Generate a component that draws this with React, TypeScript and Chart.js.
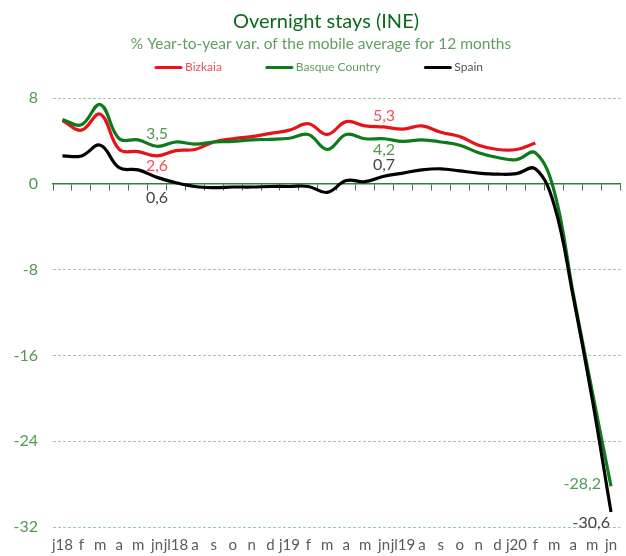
import React, { useEffect, useRef } from 'react';
import { Chart, registerables } from 'chart.js';
Chart.register(...registerables);

const categories = ['j18', 'f', 'm', 'a', 'm', 'jn', 'jl18', 'a', 's', 'o', 'n', 'd', 'j19', 'f', 'm', 'a', 'm', 'jn', 'jl19', 'a', 's', 'o', 'n', 'd', 'j20', 'f', 'm', 'a', 'm', 'jn'];

const bizkaia: (number | null)[] = [5.9, 5.0, 6.5, 3.2, 3.0, 2.6, 3.1, 3.2, 3.9, 4.2, 4.4, 4.7, 5.0, 5.6, 4.6, 5.8, 5.4, 5.3, 5.1, 5.4, 4.8, 4.4, 3.6, 3.2, 3.2, 3.8, null, null, null, null];
const basque: number[] = [6.0, 5.5, 7.4, 4.2, 4.1, 3.5, 3.9, 3.7, 3.9, 3.95, 4.1, 4.15, 4.25, 4.6, 3.2, 4.6, 4.2, 4.2, 3.95, 4.1, 3.9, 3.6, 2.9, 2.45, 2.25, 2.9, -0.7, -10.2, -19.3, -28.2];
const spain: number[] = [2.6, 2.6, 3.6, 1.5, 1.3, 0.6, 0.1, -0.25, -0.35, -0.3, -0.3, -0.25, -0.25, -0.25, -0.8, 0.3, 0.2, 0.7, 1.0, 1.3, 1.4, 1.2, 1.0, 0.9, 0.95, 1.4, -2.0, -10.5, -20.0, -30.6];

const seriesNames = ['Bizkaia', 'Basque Country', 'Spain'];
const lineColors = ['#e5141b', '#0e7a1c', '#000000'];
const legendTextColors = ['#f0505a', '#5f9f5f', '#555555'];
const labelColors = ['#f0505a', '#4f9a4f', '#444444'];

const yMin = -32;
const yMax = 8;
const yStep = 8;

const titleText = 'Overnight stays (INE)';
const subtitleText = '% Year-to-year var. of the mobile average for 12 months';

// data labels: dataset index, point index, placement
const dataLabels = [
  { ds: 0, idx: 5, dx: 0, dy: 10, align: 'center' },
  { ds: 0, idx: 17, dx: 0, dy: -11, align: 'center' },
  { ds: 1, idx: 5, dx: 0, dy: -12, align: 'center' },
  { ds: 1, idx: 17, dx: 0, dy: 11, align: 'center' },
  { ds: 1, idx: 29, dx: -10, dy: -2, align: 'right' },
  { ds: 2, idx: 5, dx: 0, dy: 20, align: 'center' },
  { ds: 2, idx: 17, dx: 0, dy: -11, align: 'center' },
  { ds: 2, idx: 29, dx: -1, dy: 11, align: 'right' },
];

const FONT = 'Lato, "Noto Sans", sans-serif';

const overlayPlugin = {
  id: 'overlayText',
  afterDraw(chart: any) {
    const ctx = chart.ctx as CanvasRenderingContext2D;
    const cx = chart.width / 2;
    ctx.save();
    ctx.textBaseline = 'middle';
    ctx.textAlign = 'center';
    ctx.font = `20px ${FONT}`;
    ctx.fillStyle = '#0f6a1e';
    ctx.fillText(titleText, cx + 13, 22);
    ctx.font = `15.5px ${FONT}`;
    ctx.fillStyle = '#5f9f5f';
    ctx.fillText(subtitleText, cx + 8, 44);

    // legend
    ctx.font = `12px ${FONT}`;
    const lineW = 27;
    const textGap = 3;
    const gap = 44;
    const widths = seriesNames.map((n) => lineW + textGap + ctx.measureText(n).width);
    const total = widths.reduce((a, b) => a + b, 0) + gap * (widths.length - 1);
    let x = cx + 6 - total / 2;
    ctx.textAlign = 'left';
    seriesNames.forEach((n, i) => {
      ctx.strokeStyle = lineColors[i];
      ctx.lineWidth = 3;
      ctx.lineCap = 'round';
      ctx.beginPath();
      ctx.moveTo(x + 1, 67.5);
      ctx.lineTo(x + lineW - 1, 67.5);
      ctx.stroke();
      ctx.fillStyle = legendTextColors[i];
      ctx.fillText(n, x + lineW + textGap, 67.5);
      x += widths[i] + gap;
    });

    // data labels
    ctx.font = `16px ${FONT}`;
    dataLabels.forEach((l) => {
      const meta = chart.getDatasetMeta(l.ds);
      const el = meta.data[l.idx];
      const v = chart.data.datasets[l.ds].data[l.idx];
      if (!el || v == null) return;
      const txt = (v as number).toFixed(1).replace('.', ',');
      ctx.fillStyle = labelColors[l.ds];
      ctx.textAlign = l.align as CanvasTextAlign;
      ctx.fillText(txt, el.x + l.dx, el.y + l.dy);
    });
    ctx.restore();
  },
};

export default function App() {
  const ref = useRef<HTMLCanvasElement>(null);
  useEffect(() => {
    if (!ref.current) return;
    const axisGreen = '#2f7f3a';
    const gridGreen = '#9ccb9c';
    const chart = new Chart(ref.current, {
      type: 'line',
      data: {
        labels: categories,
        datasets: [
          { label: seriesNames[0], data: bizkaia, borderColor: lineColors[0], backgroundColor: lineColors[0], borderWidth: 3.2, pointRadius: 0, tension: 0.4, order: 2, fill: false },
          { label: seriesNames[1], data: basque, borderColor: lineColors[1], backgroundColor: lineColors[1], borderWidth: 3.2, pointRadius: 0, tension: 0.4, order: 1, fill: false },
          { label: seriesNames[2], data: spain, borderColor: lineColors[2], backgroundColor: lineColors[2], borderWidth: 3.2, pointRadius: 0, tension: 0.4, order: 0, fill: false },
        ],
      },
      options: {
        responsive: false,
        animation: false,
        layout: { padding: { top: 98, left: 0, right: 0, bottom: 0 } },
        plugins: {
          legend: { display: false },
          title: { display: false },
          tooltip: { enabled: false },
        },
        scales: {
          x: {
            type: 'category',
            position: 'bottom',
            offset: true,
            grid: { display: false, drawTicks: false },
            border: { display: false },
            ticks: {
              autoSkip: false,
              maxRotation: 0,
              minRotation: 0,
              padding: 9,
              color: '#595959',
              font: { family: FONT, size: 15 },
            },
            afterFit: (s: any) => { s.height = 29; },
          },
          x0: {
            type: 'category',
            axis: 'x',
            position: { y: 0 },
            offset: true,
            grid: { display: true, drawOnChartArea: false, drawTicks: true, tickLength: 6, color: axisGreen, tickColor: axisGreen, offset: true, lineWidth: 1 },
            border: { display: true, color: axisGreen, width: 1.5 },
            ticks: { display: false },
          },
          y: {
            type: 'linear',
            min: yMin,
            max: yMax,
            ticks: {
              stepSize: yStep,
              padding: 15,
              color: '#4f9a4f',
              font: { family: FONT, size: 16 },
            },
            grid: {
              drawTicks: false,
              lineWidth: 1,
              color: (c: any) => (c.tick && c.tick.value === 0 ? 'rgba(0,0,0,0)' : gridGreen),
            },
            border: { display: false, dash: [3, 2] },
            afterFit: (s: any) => { s.width = 53; },
          },
        },
      } as any,
      plugins: [overlayPlugin],
    });
    return () => chart.destroy();
  }, []);
  return (
    <div style={{ position: 'fixed', left: 0, top: 0, width: 626, height: 556, background: '#fff' }}>
      <canvas ref={ref} width={626} height={556} />
    </div>
  );
}
